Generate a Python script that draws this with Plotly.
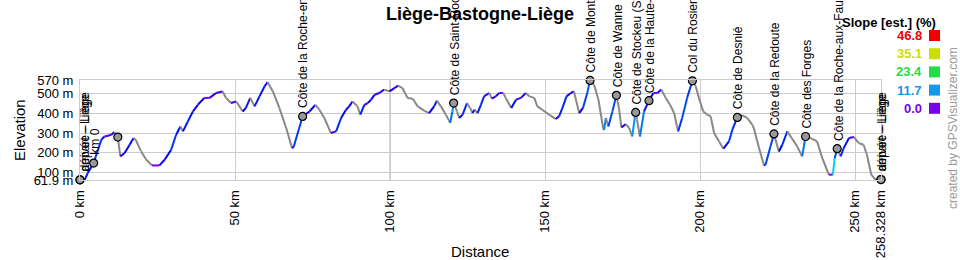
import colorsys
import plotly.graph_objects as go

# ---------------- data ----------------
dist_km = [0, 1.5, 2.5, 4.4, 5.8, 6.9, 7.9, 9.0, 10.1, 11.1, 12.2, 13.0, 14.4, 16.0, 17.3, 18.0,
           19.7, 21.4, 23.2, 25.6, 27.3, 29.4, 31.0, 32.4, 33.2, 34.8, 36.4, 38.0, 40.1, 41.8,
           43.9, 46.0, 47.1, 48.7, 50.4, 52.5, 53.5, 54.9, 56.3, 57.9, 59.5, 60.5, 62.2, 64.3,
           66.5, 68.4, 68.9, 70.7, 71.8, 74.0, 75.9, 77.2, 78.8, 80.9, 82.6, 84.2, 85.8, 86.8,
           87.9, 89.5, 90.4, 91.7, 92.8, 93.9, 95.0, 96.5, 98.1, 99.8, 101.4, 102.6, 104.0,
           105.6, 107.3, 108.9, 111.0, 112.6, 114.2, 115.1, 116.4, 118.0, 119.4, 120.1, 120.5,
           121.6, 122.3, 123.4, 124.8, 125.8, 126.6, 127.3, 128.2, 129.3, 130.3, 132.0, 132.8,
           134.1, 135.2, 136.5, 137.3, 139.1, 140.6, 142.2, 143.8, 144.9, 146.5, 147.5, 149.1,
           151.3, 153.4, 154.5, 155.6, 156.9, 158.3, 159.3, 161.0, 162.2, 163.6, 164.5, 165.8,
           167.2, 168.7, 169.0, 169.6, 170.4, 171.7, 173.0, 173.8, 174.6, 176.0, 177.1, 178.1,
           178.9, 179.2, 179.6, 180.6, 181.9, 183.5, 184.9, 186.2, 187.5, 188.9, 190.3, 191.6,
           192.9, 194.2, 195.8, 197.5, 198.6, 199.6, 201.0, 202.3, 203.4, 204.5, 206.1, 207.5,
           209.3, 210.4, 212.0, 213.6, 215.2, 216.8, 217.3, 219.0, 220.6, 221.1, 222.7, 223.8,
           225.4, 226.5, 228.1, 229.5, 231.3, 232.9, 234.0, 235.6, 237.7, 239.4, 241.5, 242.8,
           243.4, 244.2, 245.3, 246.3, 248.0, 249.6, 251.1, 252.7, 253.8, 255.2, 256.5, 258.328]
elev_m = [63, 62, 97, 148, 216, 267, 283, 287, 292, 306, 280, 182, 199, 241, 275, 265,
          207, 165, 136, 136, 165, 216, 292, 334, 309, 360, 410, 444, 479, 479,
          504, 512, 479, 453, 461, 410, 428, 479, 436, 487, 537, 560, 512, 428,
          326, 224, 230, 326, 385, 410, 444, 419, 377, 301, 309, 377, 419, 436,
          461, 436, 394, 444, 453, 470, 495, 504, 521, 512, 529, 541, 529,
          479, 475, 436, 414, 402, 436, 465, 436, 394, 352, 410, 453,
          410, 377, 394, 453, 428, 402, 420, 402, 444, 487, 504, 475,
          487, 504, 504, 479, 428, 470, 479, 504, 487, 479, 436, 419,
          394, 372, 385, 428, 487, 504, 512, 402, 428, 504, 568, 546,
          470, 326, 316, 377, 334, 410, 492, 428, 329, 346, 326, 283,
          377, 405, 370, 283, 410, 465, 504, 504, 521, 479, 444, 402,
          309, 377, 479, 566, 537, 479, 410, 394, 385, 301, 258, 221,
          258, 318, 380, 390, 377, 343, 326, 224, 136, 140, 233, 296,
          207, 241, 309, 275, 233, 182, 283, 275, 258, 173, 89, 89,
          173, 221, 182, 224, 275, 280, 250, 241, 190, 89, 64, 64]

wp_km = [0, 0, 4.4, 12.2, 71.8, 120.5, 164.5, 173.0, 179.2, 183.5, 197.5, 212.0,
         223.8, 234.0, 244.2, 258.328, 258.328]
wp_elev = [63, 63, 148, 280, 385, 453, 568, 492, 405, 465, 566, 380,
           296, 283, 221, 64, 64]
wp_label = ["départ – Liège", "arrivée – Liège", "km 0", "",
            "Côte de la Roche-en-Ardenne", "Côte de Saint-Roch", "Côte de Mont-le-Soie",
            "Côte de Wanne", "Côte de Stockeu (Stavelot)", "Côte de la Haute-Levée",
            "Col du Rosier", "Côte de Desnié", "Côte de la Redoute", "Côte des Forges",
            "Côte de la Roche-aux-Faucons", "arrivée – Liège", "départ – Liège"]

x_tick_vals = [0, 50, 100, 150, 200, 250, 258.328]
x_tick_text = ["0 km", "50 km", "100 km", "150 km", "200 km", "250 km", "258.328 km"]
y_tick_vals = [61.9, 100, 200, 300, 400, 500, 570]
y_tick_text = ["61.9 m", "100 m", "200 m", "300 m", "400 m", "500 m", "570 m"]

slope_levels = [46.8, 35.1, 23.4, 11.7, 0.0]
slope_colors = ["#ee0000", "#ccdd00", "#22dd44", "#1199ee", "#7700ee"]
slope_hues = [0, 64, 130, 203, 270]

title_text = "Liège-Bastogne-Liège"

# ---------------- helpers ----------------
FONT = "Arial, Liberation Sans, sans-serif"
W, H = 960, 260
ML, MR, MT, MB = 80, 79, 80, 80
PW, PH = W - ML - MR, H - MT - MB


def px(xp):
    return (xp - ML) / PW


def py(yp):
    return (H - MB - yp) / PH


def slope_color(s):
    if s < 0:
        return "#888888"
    lv = slope_levels[::-1]
    hu = slope_hues[::-1]
    h = hu[-1]
    if s < lv[-1]:
        for i in range(len(lv) - 1):
            if lv[i] <= s <= lv[i + 1]:
                t = (s - lv[i]) / (lv[i + 1] - lv[i])
                if i == 0:
                    t = t ** 0.5
                h = hu[i] + t * (hu[i + 1] - hu[i])
                break
    r, g, b = colorsys.hsv_to_rgb(h / 360.0, 1.0, 0.95)
    return "rgb(%d,%d,%d)" % (r * 255, g * 255, b * 255)


fig = go.Figure()

for i in range(len(dist_km) - 1):
    d0, d1 = dist_km[i], dist_km[i + 1]
    e0, e1 = elev_m[i], elev_m[i + 1]
    s = (e1 - e0) / ((d1 - d0) * 1000.0) * 100.0
    fig.add_trace(go.Scatter(x=[d0, d1], y=[e0, e1], mode="lines",
                             line=dict(color=slope_color(s), width=2),
                             hoverinfo="skip", showlegend=False))

fig.add_trace(go.Scatter(x=wp_km, y=wp_elev, mode="markers",
                         marker=dict(size=8, color="#999999",
                                     line=dict(color="#000000", width=1.2)),
                         hoverinfo="skip", showlegend=False, cliponaxis=False))

annotations = []
for k, e, lab in zip(wp_km, wp_elev, wp_label):
    if not lab:
        continue
    annotations.append(dict(x=k, y=e, xref="x", yref="y", text=lab, textangle=-90,
                            xanchor="center", yanchor="bottom", yshift=6,
                            xshift=5 if k == 0 else 1,
                            showarrow=False, font=dict(family=FONT, size=12, color="#000")))

# axis titles
annotations.append(dict(x=px(480), y=py(251), xref="paper", yref="paper", text="Distance",
                        showarrow=False, xanchor="center", yanchor="middle",
                        font=dict(family=FONT, size=15, color="#000")))
annotations.append(dict(x=px(19), y=py(130), xref="paper", yref="paper", text="Elevation",
                        textangle=-90, showarrow=False, xanchor="center", yanchor="middle",
                        font=dict(family=FONT, size=15, color="#000")))

# slope legend
annotations.append(dict(x=px(938), y=py(23), xref="paper", yref="paper",
                        text="<b>Slope [est.] (%)</b>", showarrow=False,
                        xanchor="right", yanchor="middle",
                        font=dict(family=FONT, size=13, color="#000")))
shapes = []
for i, (lv, col) in enumerate(zip(slope_levels, slope_colors)):
    yc = 35.5 + i * 18.2
    annotations.append(dict(x=px(924), y=py(yc), xref="paper", yref="paper",
                            text="<b>%.1f</b>" % lv, showarrow=False,
                            xanchor="right", yanchor="middle",
                            font=dict(family=FONT, size=13, color=col)))
    shapes.append(dict(type="rect", xref="paper", yref="paper",
                       x0=px(929), x1=px(940), y0=py(yc - 5.5), y1=py(yc + 5.5),
                       fillcolor=col, line=dict(width=0)))

# credit
annotations.append(dict(x=px(953), y=py(128), xref="paper", yref="paper",
                        text="created by GPSVisualizer.com", textangle=-90,
                        showarrow=False, xanchor="center", yanchor="middle",
                        font=dict(family=FONT, size=12, color="#999999")))

# red 100 km line
shapes.append(dict(type="line", xref="x", yref="y", x0=100, x1=100, y0=61.9, y1=570,
                   line=dict(color="#f08080", width=1), layer="below"))

fig.update_layout(
    width=W, height=H, autosize=False,
    margin=dict(l=ML, r=MR, t=MT, b=MB, pad=0),
    paper_bgcolor="white", plot_bgcolor="white",
    title=dict(text="<b>%s</b>" % title_text, x=0.5, xref="container", xanchor="center",
               y=1 - 13.5 / H, yref="container", yanchor="middle",
               font=dict(family=FONT, size=18, color="#000")),
    xaxis=dict(range=[0, 258.328], tickvals=x_tick_vals, ticktext=x_tick_text,
               tickangle=-90, showgrid=True, gridcolor="#cccccc", gridwidth=1,
               showline=True, linecolor="#cccccc", mirror=True, zeroline=False,
               ticks="", ticklabelstandoff=4, automargin=False,
               tickfont=dict(family=FONT, size=13, color="#000")),
    yaxis=dict(range=[61.9, 570], tickvals=y_tick_vals, ticktext=y_tick_text,
               showgrid=True, gridcolor="#cccccc", gridwidth=1,
               showline=True, linecolor="#cccccc", mirror=True, zeroline=False,
               ticks="", ticklabelstandoff=3, automargin=False,
               tickfont=dict(family=FONT, size=13, color="#000")),
    annotations=annotations, shapes=shapes, hovermode=False,
)

fig.write_html("out.html")
